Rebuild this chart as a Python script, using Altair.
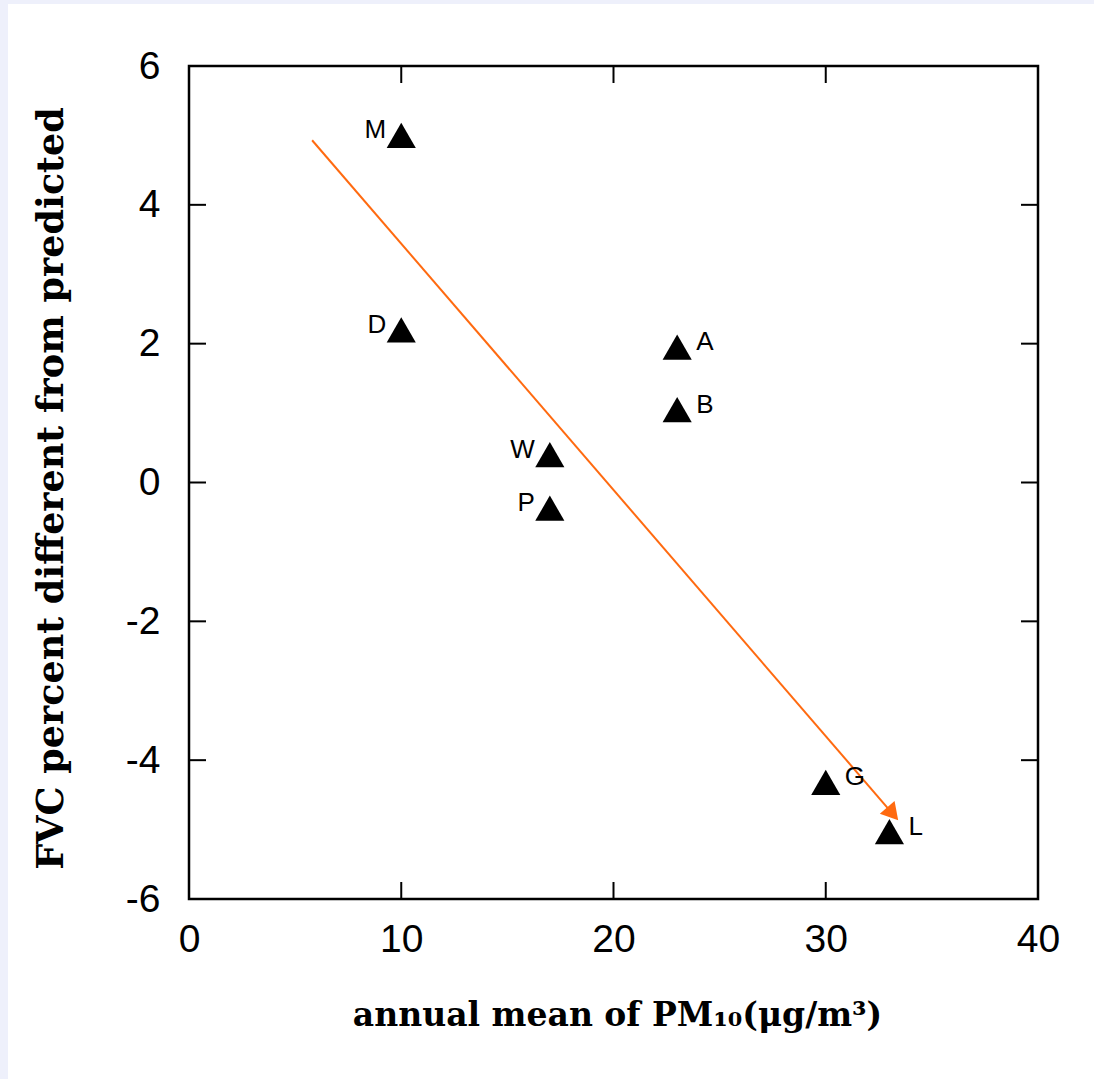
import math
import altair as alt
import pandas as pd

# ---- data ----
sites = ["M", "D", "A", "B", "W", "P", "G", "L"]
pm10 = [10, 10, 23, 23, 17, 17, 30, 33]
fvc = [5.0, 2.2, 1.95, 1.05, 0.4, -0.37, -4.32, -5.03]

x_label_values = [0, 10, 20, 30, 40]
y_label_values = [-6, -4, -2, 0, 2, 4, 6]
x_inner_ticks = [10, 20, 30]
y_inner_ticks = [-4, -2, 0, 2, 4]

arrow_x = [5.8, 33.4]   # start, tip
arrow_y = [4.93, -4.86]

# ---- layout ----
W, H = 849, 833
LEFT, TOP = 189, 66
FULL_W, FULL_H = 1094, 1079
X_DOM, Y_DOM = [0, 40], [-6, 6]
sx = W / (X_DOM[1] - X_DOM[0])
sy = H / (Y_DOM[1] - Y_DOM[0])

# arrow head orientation (computed from pixel direction)
dxp = (arrow_x[1] - arrow_x[0]) * sx
dyp = -(arrow_y[1] - arrow_y[0]) * sy
L = math.hypot(dxp, dyp)
ux, uy = dxp / L, dyp / L
head_angle = math.degrees(math.atan2(ux, -uy)) % 360
back = 8
head_x = arrow_x[1] - back * ux / sx
head_y = arrow_y[1] + back * uy / sy

pts = pd.DataFrame({"site": sites, "pm10": pm10, "fvc": fvc})
arrow_df = pd.DataFrame({"pm10": [arrow_x[0], head_x], "fvc": [arrow_y[0], head_y], "o": [0, 1]})
head_df = pd.DataFrame({"pm10": [head_x], "fvc": [head_y]})
xt = pd.DataFrame({"v": x_inner_ticks})
yt = pd.DataFrame({"v": y_inner_ticks})
one = pd.DataFrame({"a": [0]})

xscale = alt.Scale(domain=X_DOM, nice=False, zero=False)
yscale = alt.Scale(domain=Y_DOM, nice=False, zero=False)

LAV = "#eef0fb"
ORANGE = "#ff6a10"
TICK_FONT = "Liberation Sans"

x_axis = alt.Axis(
    values=x_label_values, ticks=False, tickSize=0, domain=False, grid=False,
    labelFont=TICK_FONT, labelFontSize=39, labelColor="black", labelPadding=21,
    labelFlush=False, labelOverlap=False, labelExpr="'' + datum.value",
    title="annual mean of PM₁₀(μg/m³)", titleFont="DejaVu Serif",
    titleFontWeight="bold", titleFontSize=33, titleColor="black",
    titleX=428, titleY=126, titleAlign="center", titleBaseline="alphabetic",
)
y_axis = alt.Axis(
    values=y_label_values, ticks=False, tickSize=0, domain=False, grid=False,
    labelFont=TICK_FONT, labelFontSize=39, labelColor="black", labelPadding=29,
    labelFlush=False, labelOverlap=False, labelExpr="'' + datum.value",
    title="FVC percent different from predicted", titleFont="DejaVu Serif",
    titleFontWeight="bold", titleFontSize=36.5, titleColor="black",
    titleX=-127, titleY=422, titleAngle=-90, titleAlign="center",
    titleBaseline="alphabetic",
)

# lavender page strips (left and top)
left_strip = alt.Chart(one).mark_rect(color=LAV).encode(
    x=alt.value(-LEFT), x2=alt.value(-LEFT + 8),
    y=alt.value(-TOP), y2=alt.value(FULL_H - TOP),
)
top_strip = alt.Chart(one).mark_rect(color=LAV).encode(
    x=alt.value(-LEFT), x2=alt.value(FULL_W - LEFT),
    y=alt.value(-TOP), y2=alt.value(-TOP + 4),
)

points = alt.Chart(pts).mark_point(
    shape="triangle-up", filled=True, size=850, color="black", opacity=1
).encode(
    x=alt.X("pm10:Q", scale=xscale, axis=x_axis),
    y=alt.Y("fvc:Q", scale=yscale, axis=y_axis),
)

lab_left = alt.Chart(pts).transform_filter("datum.pm10 < 20").mark_text(
    align="right", baseline="alphabetic", dx=-15, dy=3,
    font=TICK_FONT, fontSize=26, color="black",
).encode(x=alt.X("pm10:Q", scale=xscale), y=alt.Y("fvc:Q", scale=yscale), text="site:N")

lab_right = alt.Chart(pts).transform_filter("datum.pm10 >= 20").mark_text(
    align="left", baseline="alphabetic", dx=19, dy=3,
    font=TICK_FONT, fontSize=26, color="black",
).encode(x=alt.X("pm10:Q", scale=xscale), y=alt.Y("fvc:Q", scale=yscale), text="site:N")

arrow_line = alt.Chart(arrow_df).mark_line(color=ORANGE, strokeWidth=2).encode(
    x=alt.X("pm10:Q", scale=xscale), y=alt.Y("fvc:Q", scale=yscale), order="o:Q"
)
arrow_head = alt.Chart(head_df).mark_point(
    shape="triangle-up", filled=True, size=380, color=ORANGE, opacity=1,
    angle=head_angle,
).encode(x=alt.X("pm10:Q", scale=xscale), y=alt.Y("fvc:Q", scale=yscale))

TL = 17
tick_style = dict(color="black", strokeWidth=2)
bottom_ticks = alt.Chart(xt).mark_rule(**tick_style).encode(
    x=alt.X("v:Q", scale=xscale), y=alt.value(H), y2=alt.value(H - TL))
top_ticks = alt.Chart(xt).mark_rule(**tick_style).encode(
    x=alt.X("v:Q", scale=xscale), y=alt.value(0), y2=alt.value(TL))
left_ticks = alt.Chart(yt).mark_rule(**tick_style).encode(
    y=alt.Y("v:Q", scale=yscale), x=alt.value(0), x2=alt.value(TL))
right_ticks = alt.Chart(yt).mark_rule(**tick_style).encode(
    y=alt.Y("v:Q", scale=yscale), x=alt.value(W), x2=alt.value(W - TL))

chart = alt.layer(
    left_strip, top_strip, bottom_ticks, top_ticks, left_ticks, right_ticks,
    arrow_line, arrow_head, points, lab_left, lab_right,
).properties(
    width=W, height=H,
    autosize=alt.AutoSizeParams(type="none"),
    padding={"left": LEFT, "top": TOP, "right": FULL_W - LEFT - W, "bottom": FULL_H - TOP - H},
    background="white",
).configure_view(
    stroke="black", strokeWidth=2.5, fill="white",
)

chart.save("out.html", embed_options={"renderer": "svg", "actions": False})
